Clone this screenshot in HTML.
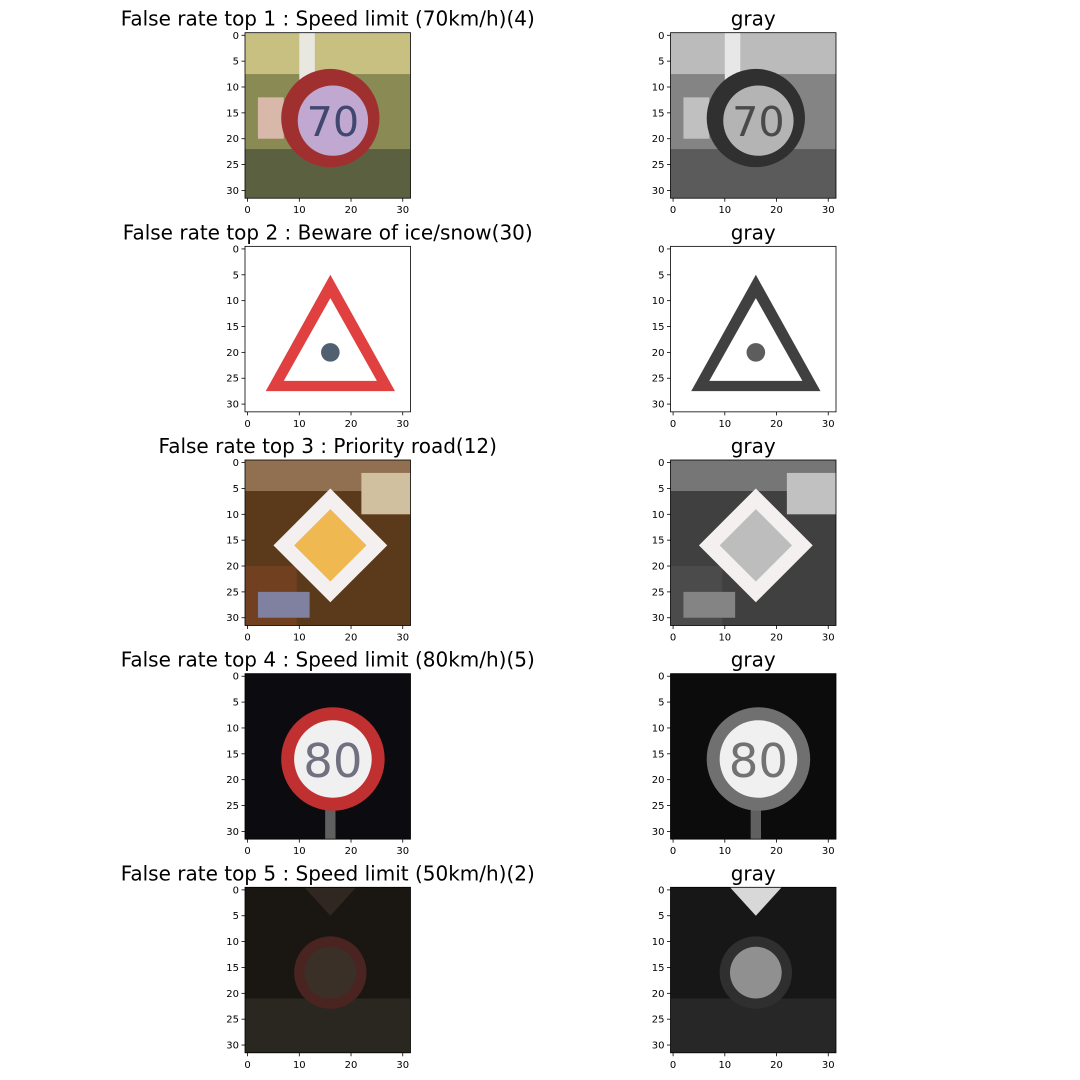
<!DOCTYPE html>
<html><head><meta charset="utf-8"><style>
html,body{margin:0;padding:0;background:#fff;width:1080px;height:1080px;overflow:hidden}
svg text{font-family:"DejaVu Sans","Liberation Sans",sans-serif}
</style></head><body>
<svg id="fig" width="1080" height="1080" xmlns="http://www.w3.org/2000/svg"></svg>
<script>
const titles = ["False rate top 1 : Speed limit (70km/h)(4)","False rate top 2 : Beware of ice/snow(30)","False rate top 3 : Priority road(12)","False rate top 4 : Speed limit (80km/h)(5)","False rate top 5 : Speed limit (50km/h)(2)"];
const yTicks = [0,5,10,15,20,25,30];
const xTicks = [0,10,20,30];
const NS="http://www.w3.org/2000/svg";
const fig=document.getElementById('fig');
const colLeft=[245,670.5], size=165.5, top0=32.7, step=213.65;
function el(t,a,p){const e=document.createElementNS(NS,t);for(const k in a)e.setAttribute(k,a[k]);(p||fig).appendChild(e);return e;}

function art(i,gray){
  const g=c=>{if(!gray)return c;const r=parseInt(c.substr(1,2),16),G=parseInt(c.substr(3,2),16),b=parseInt(c.substr(5,2),16);const v=Math.round(0.3*r+0.59*G+0.11*b).toString(16).padStart(2,'0');return '#'+v+v+v;};
  let s='';
  if(i===0){
    s+=`<rect x="-0.5" y="-0.5" width="32" height="32" fill="${g('#8a8a55')}"/>`;
    s+=`<rect x="-0.5" y="-0.5" width="32" height="8" fill="${g('#c8c080')}"/>`;
    s+=`<rect x="10" y="-0.5" width="3" height="12" fill="${g('#e8e8e0')}"/>`;
    s+=`<rect x="-0.5" y="22" width="32" height="10" fill="${g('#5a6040')}"/>`;
    s+=`<rect x="2" y="12" width="5" height="8" fill="${g('#d8b8a8')}"/>`;
    s+=`<circle cx="16" cy="16" r="9.5" fill="${gray?'#303030':'#a03030'}"/>`;
    s+=`<circle cx="16.5" cy="16.5" r="6.8" fill="${g('#c0a8d0')}"/>`;
    s+=`<text x="16.5" y="19.5" font-size="8" text-anchor="middle" fill="${g('#404870')}">70</text>`;
  } else if(i===1){
    s+=`<rect x="-0.5" y="-0.5" width="32" height="32" fill="#ffffff"/>`;
    s+=`<polygon points="16,5 28.5,27.5 3.5,27.5" fill="${gray?'#404040':'#e04040'}"/>`;
    s+=`<polygon points="16,9.5 25,25.5 7,25.5" fill="#ffffff"/>`;
    s+=`<circle cx="16" cy="20" r="1.8" fill="${g('#506070')}"/>`;
  } else if(i===2){
    s+=`<rect x="-0.5" y="-0.5" width="32" height="32" fill="${g('#5a3a1a')}"/>`;
    s+=`<rect x="-0.5" y="-0.5" width="32" height="6" fill="${g('#907050')}"/>`;
    s+=`<rect x="22" y="2" width="9.5" height="8" fill="${g('#d0c0a0')}"/>`;
    s+=`<rect x="-0.5" y="20" width="10" height="12" fill="${g('#704020')}"/>`;
    s+=`<rect x="2" y="25" width="10" height="5" fill="${g('#8080a0')}"/>`;
    s+=`<polygon points="16,5 27,16 16,27 5,16" fill="#f4f0f0"/>`;
    s+=`<polygon points="16,9 23,16 16,23 9,16" fill="${g('#f0b850')}"/>`;
  } else if(i===3){
    s+=`<rect x="-0.5" y="-0.5" width="32" height="32" fill="${g('#0c0c10')}"/>`;
    s+=`<rect x="15" y="24" width="2" height="8" fill="${g('#606060')}"/>`;
    s+=`<circle cx="16.5" cy="16" r="10" fill="${gray?'#707070':'#c03030'}"/>`;
    s+=`<circle cx="16.5" cy="16" r="7.5" fill="#f0f0f0"/>`;
    s+=`<text x="16.5" y="19.5" font-size="9" text-anchor="middle" fill="${g('#707080')}">80</text>`;
  } else {
    s+=`<rect x="-0.5" y="-0.5" width="32" height="32" fill="${g('#1a1612')}"/>`;
    s+=`<polygon points="11,-0.5 21,-0.5 16,5" fill="${gray?'#d8d8d8':'#302820'}"/>`;
    s+=`<rect x="-0.5" y="21" width="32" height="11" fill="${g('#2a2620')}"/>`;
    s+=`<circle cx="16" cy="16" r="7" fill="${g('#4a2420')}"/>`;
    s+=`<circle cx="16" cy="16" r="5" fill="${gray?'#909090':'#3a3028'}"/>`;
  }
  return s;
}

for(let r=0;r<5;r++){
  for(let c=0;c<2;c++){
    const x0=colLeft[c], y0=top0+r*step;
    const grp=el('g',{});
    
    
    const t=el('text',{x:x0+size/2,y:y0-7,'font-size':20,'text-anchor':'middle',fill:'#000'},grp);
    t.textContent=c===0?titles[r]:'gray';
    
    
    const img=el('svg',{x:x0,y:y0,width:size,height:size,viewBox:'-0.5 -0.5 32 32',preserveAspectRatio:'none'},grp);
    img.innerHTML=art(r,c===1);
    
    
    el('rect',{x:x0,y:y0,width:size,height:size,fill:'none',stroke:'#000','stroke-width':0.8},grp);
    const sc=v=>(v+0.5)*size/32;
    yTicks.forEach(v=>{
      const y=y0+sc(v);
      el('line',{x1:x0-3.5,x2:x0,y1:y,y2:y,stroke:'#000','stroke-width':0.8},grp);
      const tt=el('text',{x:x0-6,y:y+3.5,'font-size':10,'text-anchor':'end'},grp);
      tt.textContent=v;
      
      
    });
    xTicks.forEach(v=>{
      const x=x0+sc(v);
      el('line',{x1:x,x2:x,y1:y0+size,y2:y0+size+3.5,stroke:'#000','stroke-width':0.8},grp);
      const tt=el('text',{x:x,y:y0+size+15,'font-size':10,'text-anchor':'middle'},grp);
      tt.textContent=v;
      
      
    });
  }
}
</script>
</body></html>
